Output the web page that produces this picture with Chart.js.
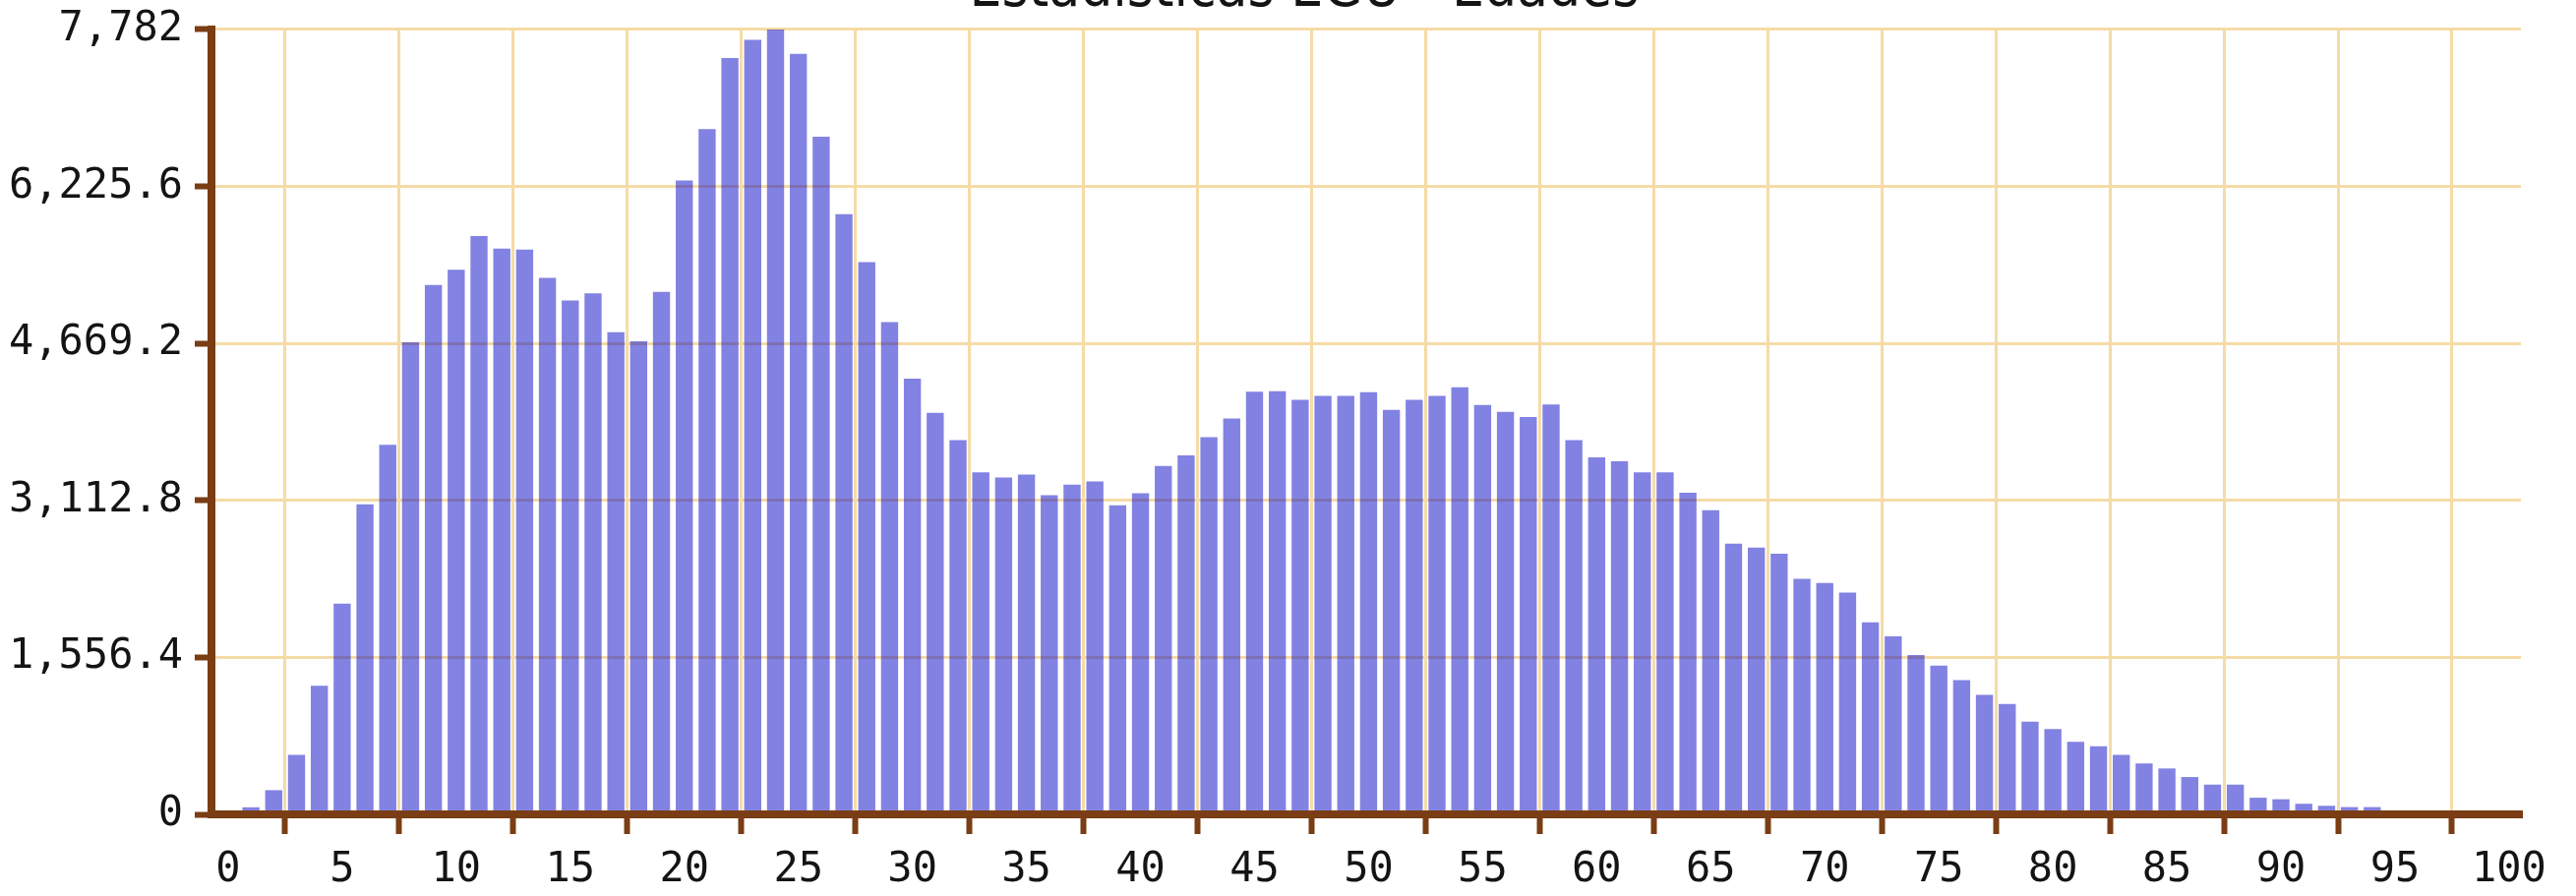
<!DOCTYPE html>
<html>
<head>
<meta charset="utf-8">
<title>Estadísticas EGU - Edades</title>
<script src="https://cdn.jsdelivr.net/npm/chart.js@4.4.0/dist/chart.umd.min.js"></script>
<style>
    html, body { margin: 0; padding: 0; background: #ffffff; }
</style>
</head>
<body>
<canvas id="edadesChart" width="2619" height="911"></canvas>
<script>
const chartTitle = 'Estadísticas EGU - Edades';

const edades = [
    0, 1, 2, 3, 4, 5, 6, 7, 8, 9,
    10, 11, 12, 13, 14, 15, 16, 17, 18, 19,
    20, 21, 22, 23, 24, 25, 26, 27, 28, 29,
    30, 31, 32, 33, 34, 35, 36, 37, 38, 39,
    40, 41, 42, 43, 44, 45, 46, 47, 48, 49,
    50, 51, 52, 53, 54, 55, 56, 57, 58, 59,
    60, 61, 62, 63, 64, 65, 66, 67, 68, 69,
    70, 71, 72, 73, 74, 75, 76, 77, 78, 79,
    80, 81, 82, 83, 84, 85, 86, 87, 88, 89,
    90, 91, 92, 93, 94, 95, 96, 97, 98, 99,
    100
];

const personas = [
    25, 70, 240, 590, 1275, 2090, 3075, 3665, 4680, 5250,
    5400, 5735, 5610, 5600, 5320, 5095, 5165, 4780, 4690, 5180,
    6285, 6795, 7500, 7680, 7782, 7540, 6720, 5950, 5475, 4880,
    4320, 3980, 3710, 3390, 3340, 3370, 3165, 3270, 3300, 3065,
    3185, 3455, 3560, 3740, 3925, 4190, 4195, 4110, 4150, 4150,
    4185, 4010, 4110, 4150, 4235, 4060, 3990, 3940, 4065, 3710,
    3540, 3500, 3390, 3390, 3190, 3015, 2685, 2645, 2585, 2335,
    2295, 2200, 1905, 1765, 1580, 1475, 1330, 1185, 1095, 920,
    845, 720, 675, 590, 505, 455, 370, 295, 295, 165,
    150, 105, 85, 72, 72, 35, 28, 22, 18, 15,
    12
];

const xTicks = [0, 5, 10, 15, 20, 25, 30, 35, 40, 45, 50, 55, 60, 65, 70, 75, 80, 85, 90, 95, 100];
const yTicks = [0, 1556.4, 3112.8, 4669.2, 6225.6, 7782];

const axisColor = '#7a3d14';
const gridColor = '#f5dba6';
const textColor = '#141414';
const titleFont = "'DejaVu Sans Condensed', 'DejaVu Sans', sans-serif";
const tickFont = "'DejaVu Sans Mono', 'DejaVu Sans', monospace";

// el título del original no va centrado en todo el lienzo, se corre un poco a la derecha
const titleLeft = 89;

Chart.defaults.font.family = titleFont;
Chart.defaults.color = textColor;

const titleShift = {
    id: 'titleShift',
    afterLayout: function(chart) {
        if (chart.titleBlock) {
            chart.titleBlock.left = titleLeft;
        }
    }
};

const ctx = document.getElementById('edadesChart').getContext('2d');
const edadesChart = new Chart(ctx, {
    type: 'bar',
    data: {
        datasets: [
            {
                label: 'Edades',
                data: edades.map((e, i) => ({ x: e, y: personas[i] })),
                backgroundColor: 'rgba(0, 0, 196, 0.49)',
                borderWidth: 0,
                barPercentage: 0.75,
                categoryPercentage: 1.0
            }
        ]
    },
    options: {
        responsive: false,
        animation: false,
        devicePixelRatio: 1,
        layout: {
            padding: { left: 0, right: 56, top: 0, bottom: 0 }
        },
        scales: {
            x: {
                type: 'linear',
                position: 'bottom',
                offset: false,
                min: -0.73,
                max: 100.52,
                afterBuildTicks: function(axis) {
                    axis.ticks = xTicks.map(v => ({ value: v }));
                },
                afterFit: function(axis) {
                    axis.height = 83;
                },
                grid: {
                    color: gridColor,
                    lineWidth: 3,
                    drawTicks: true,
                    tickLength: 20,
                    tickWidth: 6,
                    tickColor: axisColor
                },
                border: {
                    display: true,
                    color: axisColor,
                    width: 8,
                    z: 1
                },
                ticks: {
                    color: textColor,
                    padding: 12,
                    maxRotation: 0,
                    autoSkip: false,
                    font: { family: tickFont, size: 42 }
                }
            },
            y: {
                type: 'linear',
                position: 'left',
                min: 0,
                max: 7782,
                afterBuildTicks: function(axis) {
                    axis.ticks = yTicks.map(v => ({ value: v }));
                },
                afterFit: function(axis) {
                    axis.width = 215;
                },
                grid: {
                    color: gridColor,
                    lineWidth: 3,
                    drawTicks: true,
                    tickLength: 17,
                    tickWidth: 6,
                    tickColor: axisColor
                },
                border: {
                    display: true,
                    color: axisColor,
                    width: 8,
                    z: 1
                },
                ticks: {
                    color: textColor,
                    padding: 12,
                    autoSkip: false,
                    font: { family: tickFont, size: 42, lineHeight: 0.8 },
                    callback: function(value) {
                        return value.toLocaleString('en-US', { maximumFractionDigits: 1 });
                    }
                }
            }
        },
        plugins: {
            legend: { display: false },
            tooltip: { enabled: false },
            title: {
                display: true,
                text: chartTitle,
                color: textColor,
                font: { size: 58, weight: 'normal' },
                padding: { top: -44, bottom: 4.4 }
            }
        }
    },
    plugins: [titleShift]
});
</script>
</body>
</html>
